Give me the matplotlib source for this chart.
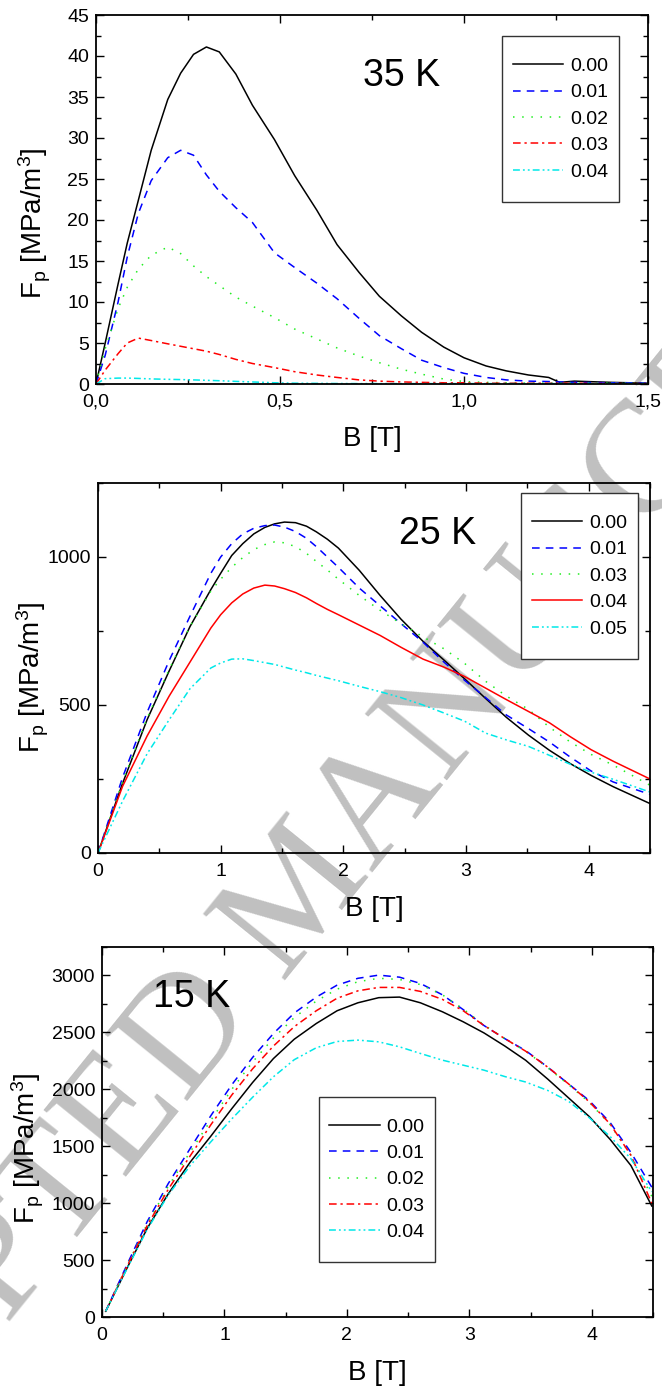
import matplotlib
matplotlib.use('Agg')
import matplotlib.pyplot as plt
from matplotlib.ticker import MultipleLocator, FuncFormatter
from matplotlib.patches import Rectangle

plt.rcParams['font.family'] = ['Liberation Sans', 'DejaVu Sans']
plt.rcParams['mathtext.fontset'] = 'custom'
plt.rcParams['mathtext.rm'] = 'Liberation Sans'
plt.rcParams['mathtext.it'] = 'Liberation Sans:italic'
plt.rcParams['mathtext.default'] = 'regular'

# ---------------- data: 35 K ----------------
b35 = [0, 0.025, 0.06, 0.085, 0.115, 0.15, 0.195, 0.23, 0.265, 0.3, 0.335, 0.38,
       0.425, 0.485, 0.54, 0.6, 0.655, 0.715, 0.77, 0.83, 0.885, 0.945, 1.0, 1.06,
       1.115, 1.175, 1.23, 1.26, 1.3, 1.4, 1.5]
labels35 = ['0.00', '0.01', '0.02', '0.03', '0.04']
f35_000 = [0, 5.0, 12.2, 17.2, 22.4, 28.5, 34.7, 37.9, 40.2, 41.1, 40.5, 37.8, 34.0,
           29.8, 25.4, 21.2, 17.0, 13.6, 10.7, 8.3, 6.3, 4.5, 3.2, 2.2, 1.6, 1.1, 0.8,
           0.2, 0.35, 0.2, 0.1]
f35_001 = [0, 3.5, 10.0, 15.5, 20.8, 24.8, 27.6, 28.5, 27.9, 25.5, 23.5, 21.5, 19.7,
           16.0, 14.2, 12.3, 10.4, 8.0, 5.9, 4.3, 2.9, 2.0, 1.3, 0.8, 0.5, 0.35, 0.3,
           0.25, 0.2, 0.15, 0.1]
f35_002 = [0, 4.3, 9.2, 11.8, 14.0, 15.7, 16.7, 15.9, 14.4, 13.1, 12.0, 10.6, 9.5,
           8.1, 6.7, 5.5, 4.4, 3.4, 2.6, 1.8, 1.2, 0.6, 0.3, 0.2, 0.15, 0.1, 0.1, 0.1,
           0.1, 0.1, 0.05]
f35_003 = [0, 1.7, 3.7, 5.0, 5.6, 5.3, 4.9, 4.6, 4.3, 4.0, 3.6, 3.0, 2.5, 2.0, 1.5,
           1.1, 0.8, 0.5, 0.35, 0.25, 0.2, 0.15, 0.15, 0.1, 0.1, 0.1, 0.1, 0.1, 0.1,
           0.05, 0.05]
f35_004 = [0, 0.65, 0.72, 0.72, 0.68, 0.62, 0.57, 0.54, 0.5, 0.45, 0.4, 0.32, 0.25,
           0.15, 0.1, 0.08, 0.06, 0.05, 0.05, 0.05, 0.05, 0.05, 0.05, 0.05, 0.05, 0.05,
           0.05, 0.05, 0.05, 0.05, 0.05]

# ---------------- data: 25 K ----------------
b25 = [0, 0.2, 0.4, 0.58, 0.75, 0.92, 1.0, 1.09, 1.18, 1.27, 1.36, 1.44, 1.52, 1.61,
       1.7, 1.78, 1.87, 1.96, 2.13, 2.3, 2.47, 2.65, 2.82, 2.99, 3.16, 3.33, 3.51,
       3.68, 3.85, 4.02, 4.2, 4.5]
labels25 = ['0.00', '0.01', '0.03', '0.04', '0.05']
f25_000 = [0, 235, 450, 615, 765, 890, 945, 1005, 1045, 1078, 1100, 1112, 1118, 1116,
           1104, 1085, 1060, 1030, 955, 870, 790, 715, 652, 588, 522, 458, 398, 347,
           302, 262, 224, 167]
f25_001 = [0, 255, 475, 650, 800, 945, 1000, 1045, 1078, 1097, 1106, 1108, 1101, 1086,
           1063, 1035, 1000, 965, 895, 835, 775, 712, 645, 583, 525, 466, 420, 375,
           324, 277, 240, 198]
f25_003 = [0, 240, 455, 620, 765, 885, 925, 965, 998, 1025, 1042, 1051, 1048, 1035,
           1012, 985, 956, 925, 870, 820, 775, 730, 690, 640, 580, 530, 485, 425, 375,
           333, 297, 229]
f25_004 = [0, 225, 395, 530, 645, 760, 805, 845, 875, 895, 905, 902, 893, 880, 862,
           843, 823, 805, 770, 735, 695, 655, 628, 596, 557, 518, 478, 440, 393, 349,
           310, 250]
f25_005 = [0, 175, 335, 450, 555, 625, 642, 655, 656, 650, 643, 637, 628, 618, 609,
           600, 591, 582, 563, 545, 525, 500, 473, 445, 405, 382, 360, 330, 300, 273,
           249, 206]

# ---------------- data: 15 K ----------------
b15 = [0.03, 0.2, 0.37, 0.54, 0.72, 0.89, 1.06, 1.23, 1.4, 1.57, 1.75, 1.92, 2.09,
       2.26, 2.43, 2.6, 2.78, 2.95, 3.12, 3.29, 3.46, 3.64, 3.81, 3.98, 4.15, 4.32, 4.49]
labels15 = ['0.00', '0.01', '0.02', '0.03', '0.04']
f15_000 = [50, 420, 780, 1080, 1360, 1590, 1830, 2060, 2270, 2440, 2578, 2690, 2760,
           2805, 2810, 2760, 2681, 2593, 2495, 2380, 2255, 2090, 1925, 1760, 1560, 1330, 975]
f15_001 = [50, 450, 840, 1170, 1480, 1770, 2040, 2280, 2490, 2670, 2810, 2915, 2975,
           3003, 2985, 2930, 2830, 2700, 2560, 2445, 2340, 2195, 2048, 1900, 1708, 1445, 1140]
f15_002 = [50, 440, 820, 1145, 1450, 1730, 2000, 2240, 2450, 2630, 2775, 2880, 2945,
           2975, 2965, 2920, 2830, 2705, 2565, 2445, 2335, 2190, 2040, 1885, 1690, 1420, 1060]
f15_003 = [50, 435, 805, 1120, 1415, 1690, 1950, 2180, 2380, 2550, 2690, 2800, 2865,
           2895, 2895, 2860, 2790, 2690, 2560, 2445, 2335, 2195, 2048, 1890, 1695, 1420, 1000]
f15_004 = [50, 415, 770, 1070, 1330, 1540, 1740, 1930, 2110, 2260, 2365, 2420, 2432,
           2417, 2373, 2315, 2256, 2212, 2168, 2112, 2064, 1990, 1895, 1750, 1585, 1390, 1100]

# ---------------- styles ----------------
BLACK, BLUE, GREEN, RED, CYAN = '#000000', '#0000ff', '#22ee22', '#ff0000', '#00e8e8'
SOLID = '-'
DASH = (0, (5, 4))
DOT = (0, (1, 5))
DASHDOT = (0, (5, 2.5, 1.5, 2.5))
DASHDOTDOT = (0, (4.5, 2, 1.2, 2, 1.2, 2))
LW = 1.1

W, H = 662, 1393
fig = plt.figure(figsize=(W / 100, H / 100), dpi=100)

# watermark (behind everything)
fig.text(304 / W, 1 - 895 / H, 'ACCEPTED MANUSCRIPT', rotation=51,
         rotation_mode='anchor', ha='center', va='center', fontsize=115,
         family=['Liberation Serif', 'DejaVu Serif'], color='#c0c0c0', zorder=-5)


def make_axes(px_left, px_top, px_right, px_bottom):
    ax = fig.add_axes([px_left / W, 1 - px_bottom / H,
                       (px_right - px_left) / W, (px_bottom - px_top) / H])
    ax.set_facecolor('none')
    for s in ax.spines.values():
        s.set_linewidth(1.3)
    ax.tick_params(which='both', direction='in', top=True, right=True,
                   labelsize=14, width=1.0)
    ax.tick_params(axis='y', which='both', pad=5)
    ax.tick_params(axis='x', which='both', pad=7)
    ax.tick_params(which='major', length=6)
    ax.tick_params(which='minor', length=3.5)
    return ax


def boxed_legend(ax, box):
    x0, y0, w, h = box
    ax.add_patch(Rectangle((x0, y0), w, h, transform=ax.transAxes,
                           facecolor='white', edgecolor='#333333', lw=1.0,
                           zorder=4, clip_on=False))
    leg = ax.legend(loc='center', bbox_to_anchor=(x0 + w / 2, y0 + h / 2),
                    borderaxespad=0, borderpad=0, fontsize=14, frameon=False,
                    handlelength=2.6, handletextpad=0.35, labelspacing=0.45)
    leg.set_zorder(5)
    return leg


ylabel = r'F$_\mathrm{p}$ [MPa/m$^3$]'
LABEL_FS = 20

# ---------------- panel 1 : 35 K ----------------
ax1 = make_axes(96, 15, 648, 384)
for y, lab, c, ls in zip([f35_000, f35_001, f35_002, f35_003, f35_004], labels35,
                         [BLACK, BLUE, GREEN, RED, CYAN],
                         [SOLID, DASH, DOT, DASHDOT, DASHDOTDOT]):
    ax1.plot(b35, y, color=c, ls=ls, lw=LW, label=lab)
ax1.set_xlim(0, 1.5)
ax1.set_ylim(0, 45)
ax1.xaxis.set_major_locator(MultipleLocator(0.5))
ax1.xaxis.set_minor_locator(MultipleLocator(0.25))
ax1.yaxis.set_major_locator(MultipleLocator(5))
ax1.yaxis.set_minor_locator(MultipleLocator(2.5))
ax1.xaxis.set_major_formatter(FuncFormatter(lambda v, p: f'{v:.1f}'.replace('.', ',')))
ax1.set_xlabel('B [T]', fontsize=LABEL_FS)
ax1.set_ylabel(ylabel, fontsize=LABEL_FS)
ax1.xaxis.set_label_coords(0.5, -0.115)
ax1.yaxis.set_label_coords(-0.078, 0.436)
ax1.text(0.554, 0.835, '35 K', transform=ax1.transAxes, fontsize=27,
         ha='center', va='center')
boxed_legend(ax1, (0.7355, 0.4932, 0.212, 0.450))

# ---------------- panel 2 : 25 K ----------------
ax2 = make_axes(98, 483, 650, 853)
for y, lab, c, ls in zip([f25_000, f25_001, f25_003, f25_004, f25_005], labels25,
                         [BLACK, BLUE, GREEN, RED, CYAN],
                         [SOLID, DASH, DOT, SOLID, DASHDOTDOT]):
    ax2.plot(b25, y, color=c, ls=ls, lw=LW, label=lab)
ax2.set_xlim(0, 4.5)
ax2.set_ylim(0, 1250)
ax2.xaxis.set_major_locator(MultipleLocator(1))
ax2.xaxis.set_minor_locator(MultipleLocator(0.5))
ax2.yaxis.set_major_locator(MultipleLocator(500))
ax2.yaxis.set_minor_locator(MultipleLocator(250))
ax2.set_xlabel('B [T]', fontsize=LABEL_FS)
ax2.set_ylabel(ylabel, fontsize=LABEL_FS)
ax2.xaxis.set_label_coords(0.5, -0.115)
ax2.yaxis.set_label_coords(-0.085, 0.476)
ax2.text(0.616, 0.862, '25 K', transform=ax2.transAxes, fontsize=27,
         ha='center', va='center')
boxed_legend(ax2, (0.766, 0.5243, 0.212, 0.4486))

# ---------------- panel 3 : 15 K ----------------
ax3 = make_axes(102, 947, 653, 1317)
for y, lab, c, ls in zip([f15_000, f15_001, f15_002, f15_003, f15_004], labels15,
                         [BLACK, BLUE, GREEN, RED, CYAN],
                         [SOLID, DASH, DOT, DASHDOT, DASHDOTDOT]):
    ax3.plot(b15, y, color=c, ls=ls, lw=LW, label=lab)
ax3.set_xlim(0, 4.5)
ax3.set_ylim(0, 3250)
ax3.xaxis.set_major_locator(MultipleLocator(1))
ax3.xaxis.set_minor_locator(MultipleLocator(0.5))
ax3.yaxis.set_major_locator(MultipleLocator(500))
ax3.yaxis.set_minor_locator(MultipleLocator(250))
ax3.set_xlabel('B [T]', fontsize=LABEL_FS)
ax3.set_ylabel(ylabel, fontsize=LABEL_FS)
ax3.xaxis.set_label_coords(0.5, -0.115)
ax3.yaxis.set_label_coords(-0.102, 0.457)
ax3.text(0.162, 0.865, '15 K', transform=ax3.transAxes, fontsize=27,
         ha='center', va='center')
boxed_legend(ax3, (0.3938, 0.1486, 0.2105, 0.446))

fig.savefig('out.png', dpi=100)
